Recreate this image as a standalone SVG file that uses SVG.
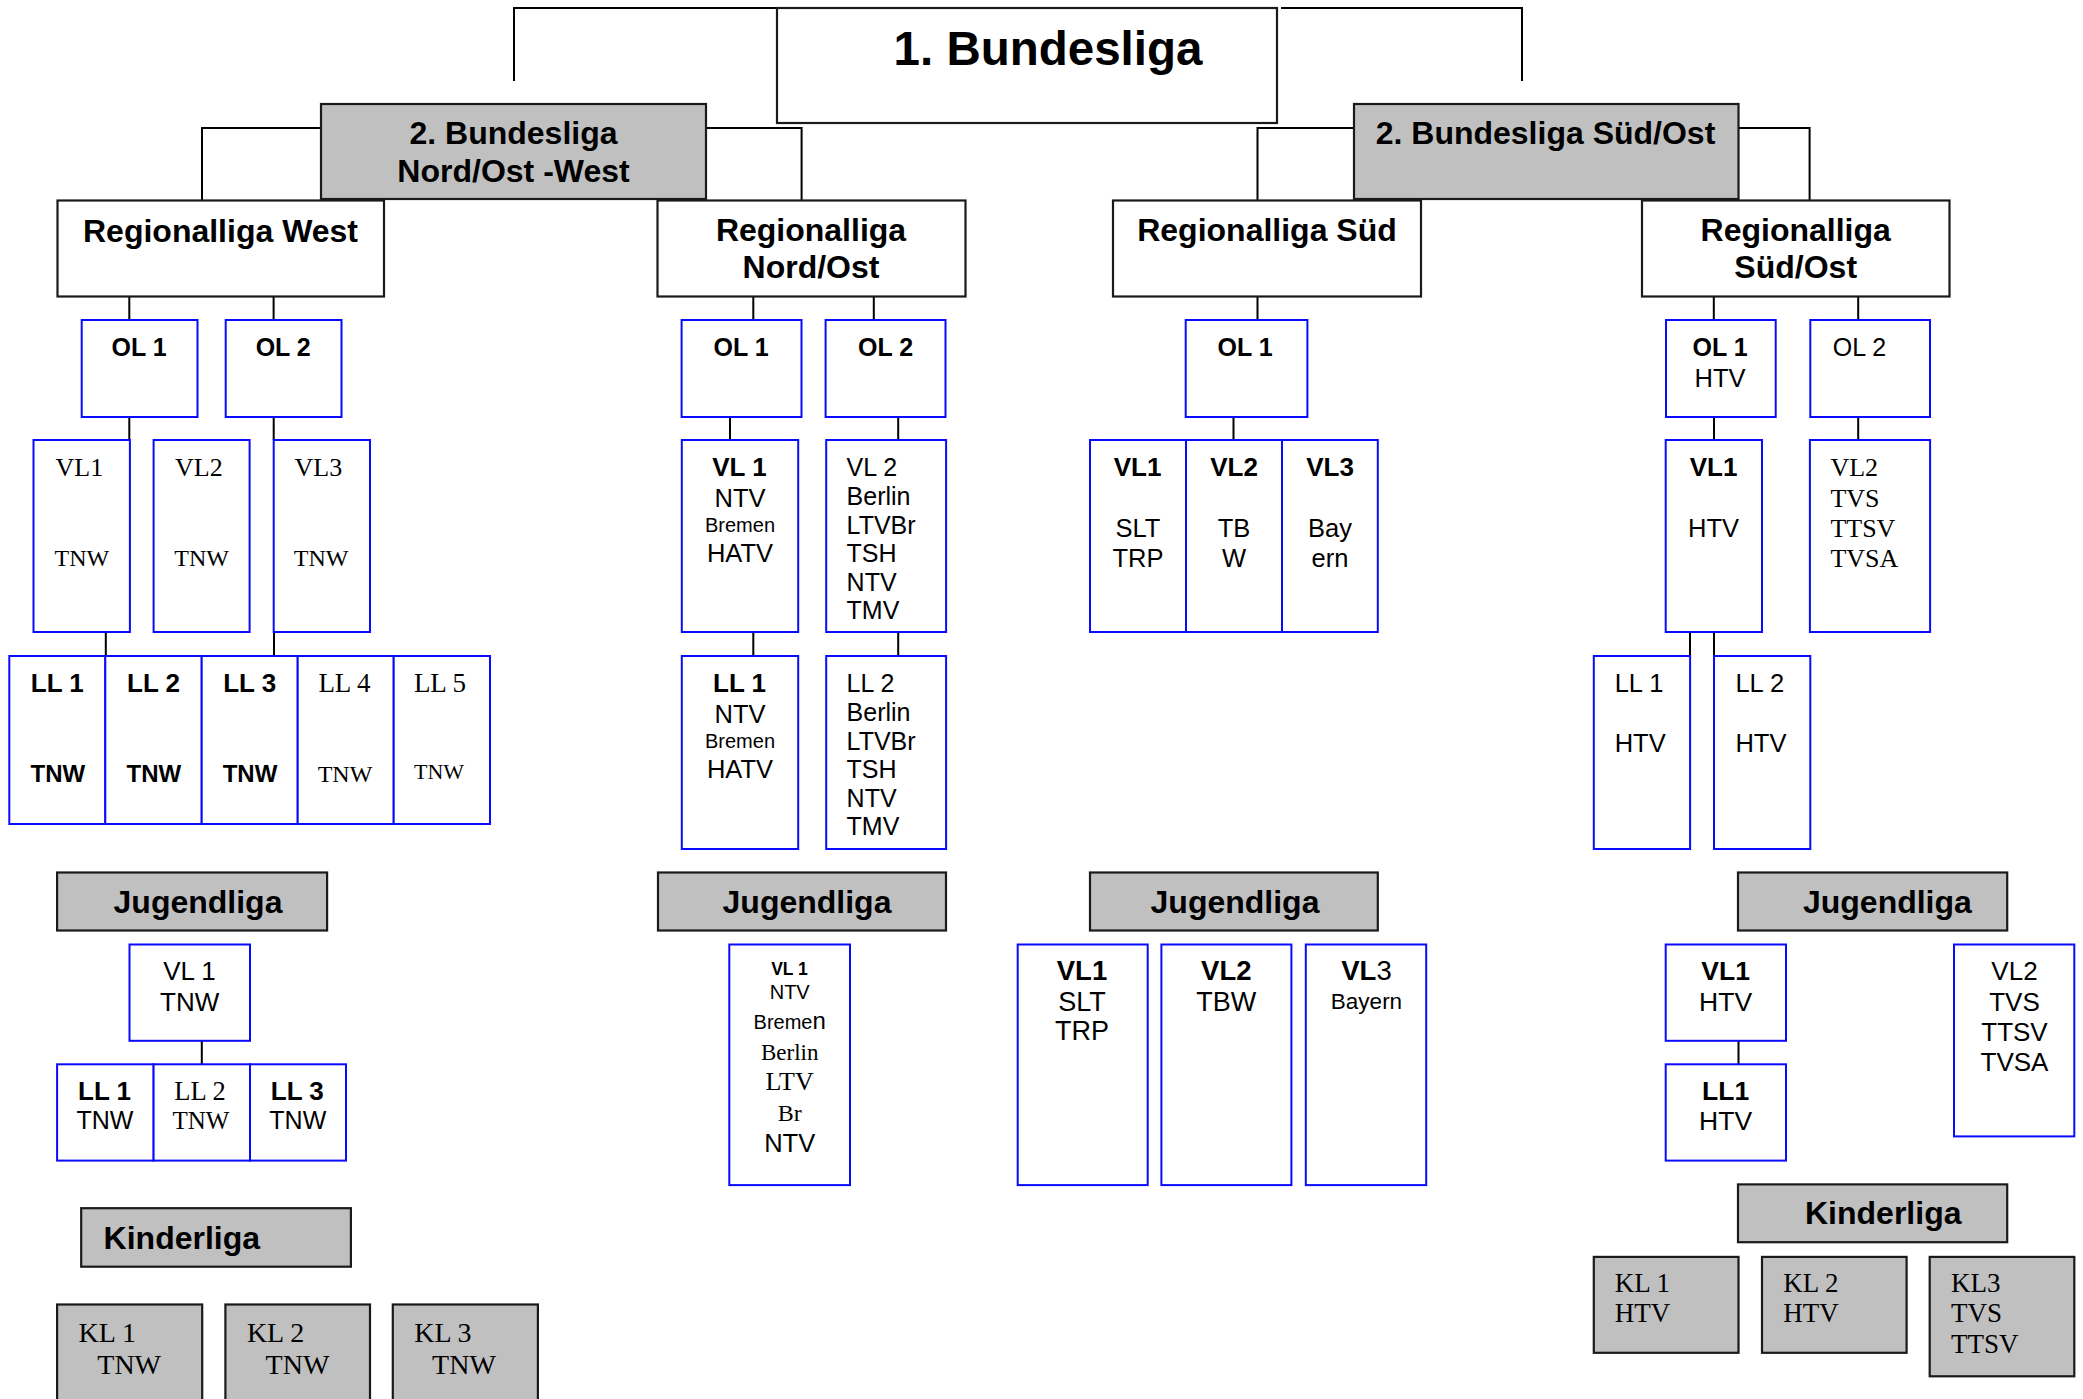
<svg xmlns="http://www.w3.org/2000/svg" width="2083" height="1399" viewBox="0 0 2083 1399">
<style>
.bk{fill:#fff;stroke:#1a1a1a;stroke-width:2.2}
.gr{fill:#c0c0c0;stroke:#1a1a1a;stroke-width:2.2}
.bl{fill:#fff;stroke:#0a0aff;stroke-width:2}
.con path{fill:none;stroke:#000;stroke-width:2}
text{fill:#000;font-family:"Liberation Sans",Arial,sans-serif}
.b{font-weight:bold}
.t{font-family:"Liberation Serif","Times New Roman",serif}
.m{text-anchor:middle}
.h{font-size:32px;font-weight:bold}
</style>
<rect width="2083" height="1399" fill="#fff"/>

<g id="connectors" class="con">
<path d="M514,81 V8 H777"/>
<path d="M1281,8 H1522 V81"/>
<path d="M321,128 H202 V200"/>
<path d="M706,128 H801.6 V200"/>
<path d="M1354,128 H1257.5 V200"/>
<path d="M1738.5,128 H1809.6 V200"/>
<path d="M129.3,296 V320"/>
<path d="M273.6,296 V320"/>
<path d="M129.3,417 V440"/>
<path d="M273.7,417 V440"/>
<path d="M105.8,632 V656"/>
<path d="M274,632 V656"/>
<path d="M753.3,296 V320"/>
<path d="M873.8,296 V320"/>
<path d="M730,417 V440"/>
<path d="M898.2,417 V440"/>
<path d="M753.3,632 V656"/>
<path d="M898.2,632 V656"/>
<path d="M1257.5,296 V320"/>
<path d="M1233.5,417 V440"/>
<path d="M1713.8,296 V320"/>
<path d="M1858.2,296 V320"/>
<path d="M1714,417 V440"/>
<path d="M1858.2,417 V440"/>
<path d="M1690,632 V656"/>
<path d="M1714,632 V656"/>
<path d="M201.8,1040.8 V1064.3"/>
<path d="M1738.5,1040.8 V1064.3"/>
</g>

<g id="bundesliga1"><rect class="bk" x="777" y="8" width="500" height="115"/><text class="b m" x="1048" y="65" font-size="47.5">1. Bundesliga</text></g>

<g id="bl2-nordost-west"><rect class="gr" x="321" y="104" width="385" height="95"/><text class="h m" x="513.5" y="144">2. Bundesliga</text><text class="h m" x="513.5" y="182">Nord/Ost -West</text></g>
<g id="bl2-suedost"><rect class="gr" x="1354" y="104" width="384.5" height="95"/><text class="h m" x="1545.5" y="144">2. Bundesliga Süd/Ost</text></g>

<g id="rl-west"><rect class="bk" x="57.5" y="200.5" width="326.5" height="96"/><text class="h m" x="220.5" y="242">Regionalliga West</text></g>
<g id="rl-nordost"><rect class="bk" x="657.5" y="200.5" width="308" height="96"/><text class="h m" x="811" y="241">Regionalliga</text><text class="h m" x="811" y="278">Nord/Ost</text></g>
<g id="rl-sued"><rect class="bk" x="1113" y="200.5" width="308" height="96"/><text class="h m" x="1267" y="241">Regionalliga Süd</text></g>
<g id="rl-suedost"><rect class="bk" x="1642" y="200.5" width="307.5" height="96"/><text class="h m" x="1795.7" y="241">Regionalliga</text><text class="h m" x="1795.7" y="278">Süd/Ost</text></g>

<!-- West -->
<g id="w-ol1"><rect class="bl" x="81.7" y="320" width="115.8" height="97"/><text class="b m" x="139" y="356" font-size="25">OL 1</text></g>
<g id="w-ol2"><rect class="bl" x="225.7" y="320" width="115.8" height="97"/><text class="b m" x="283.2" y="356" font-size="25">OL 2</text></g>
<g id="w-vl1"><rect class="bl" x="33.5" y="440" width="96.4" height="192"/><text class="t" x="55.6" y="476" font-size="26">VL1</text><text class="t" x="54.5" y="565.7" font-size="24">TNW</text></g>
<g id="w-vl2"><rect class="bl" x="153.6" y="440" width="96" height="192"/><text class="t" x="175" y="476" font-size="26">VL2</text><text class="t" x="174.3" y="565.7" font-size="24">TNW</text></g>
<g id="w-vl3"><rect class="bl" x="273.7" y="440" width="96.3" height="192"/><text class="t" x="294.6" y="476" font-size="26">VL3</text><text class="t" x="293.8" y="565.7" font-size="24">TNW</text></g>
<g id="w-ll1"><rect class="bl" x="9.3" y="656" width="96" height="168"/><text class="b m" x="57.3" y="692" font-size="26">LL 1</text><text class="b m" x="57.8" y="782" font-size="24">TNW</text></g>
<g id="w-ll2"><rect class="bl" x="105.3" y="656" width="96.4" height="168"/><text class="b m" x="153.5" y="692" font-size="26">LL 2</text><text class="b m" x="153.8" y="782" font-size="24">TNW</text></g>
<g id="w-ll3"><rect class="bl" x="201.7" y="656" width="96" height="168"/><text class="b m" x="249.7" y="692" font-size="26">LL 3</text><text class="b m" x="250" y="782" font-size="24">TNW</text></g>
<g id="w-ll4"><rect class="bl" x="297.7" y="656" width="96" height="168"/><text class="t m" x="344.5" y="692" font-size="27">LL 4</text><text class="t m" x="345" y="782" font-size="24">TNW</text></g>
<g id="w-ll5"><rect class="bl" x="393.7" y="656" width="96.3" height="168"/><text class="t m" x="440" y="692" font-size="27">LL 5</text><text class="t m" x="439" y="779" font-size="22">TNW</text></g>

<!-- Nord/Ost -->
<g id="no-ol1"><rect class="bl" x="681.6" y="320" width="119.9" height="97"/><text class="b m" x="741" y="356" font-size="25">OL 1</text></g>
<g id="no-ol2"><rect class="bl" x="825.6" y="320" width="119.9" height="97"/><text class="b m" x="885.5" y="356" font-size="25">OL 2</text></g>
<g id="no-vl1"><rect class="bl" x="681.8" y="440" width="116.4" height="192"/><text class="b m" x="739.5" y="476" font-size="26">VL 1</text><text class="m" x="740" y="506.7" font-size="25.5">NTV</text><text class="m" x="740" y="531.7" font-size="20">Bremen</text><text class="m" x="740" y="561.7" font-size="25.5">HATV</text></g>
<g id="no-vl2"><rect class="bl" x="826.2" y="440" width="119.9" height="192"/><text x="846.6" y="476" font-size="25"><tspan>VL 2</tspan><tspan x="846.6" y="505">Berlin</tspan><tspan x="846.6" y="533.5">LTVBr</tspan><tspan x="846.6" y="562">TSH</tspan><tspan x="846.6" y="590.5">NTV</tspan><tspan x="846.6" y="619">TMV</tspan></text></g>
<g id="no-ll1"><rect class="bl" x="681.8" y="656" width="116.4" height="193"/><text class="b m" x="739.5" y="692" font-size="26">LL 1</text><text class="m" x="740" y="722.7" font-size="25.5">NTV</text><text class="m" x="740" y="747.7" font-size="20">Bremen</text><text class="m" x="740" y="777.7" font-size="25.5">HATV</text></g>
<g id="no-ll2"><rect class="bl" x="826.2" y="656" width="119.9" height="193"/><text x="846.6" y="692" font-size="25"><tspan>LL 2</tspan><tspan x="846.6" y="721">Berlin</tspan><tspan x="846.6" y="749.5">LTVBr</tspan><tspan x="846.6" y="778">TSH</tspan><tspan x="846.6" y="806.5">NTV</tspan><tspan x="846.6" y="835">TMV</tspan></text></g>

<!-- Süd -->
<g id="s-ol1"><rect class="bl" x="1185.7" y="320" width="121.7" height="97"/><text class="b m" x="1245" y="356" font-size="25">OL 1</text></g>
<g id="s-vl1"><rect class="bl" x="1090" y="440" width="96" height="192"/><text class="b m" x="1137.5" y="476" font-size="26">VL1</text><text class="m" x="1138" y="536.7" font-size="25.5">SLT</text><text class="m" x="1138" y="566.7" font-size="25.5">TRP</text></g>
<g id="s-vl2"><rect class="bl" x="1186" y="440" width="96" height="192"/><text class="b m" x="1234" y="476" font-size="26">VL2</text><text class="m" x="1234" y="536.7" font-size="25.5">TB</text><text class="m" x="1234" y="566.7" font-size="25.5">W</text></g>
<g id="s-vl3"><rect class="bl" x="1282" y="440" width="95.8" height="192"/><text class="b m" x="1330" y="476" font-size="26">VL3</text><text class="m" x="1330" y="536.7" font-size="25.5">Bay</text><text class="m" x="1330" y="566.7" font-size="25.5">ern</text></g>

<!-- Süd/Ost -->
<g id="so-ol1"><rect class="bl" x="1666" y="320" width="109.7" height="97"/><text class="b m" x="1720" y="356" font-size="25">OL 1</text><text class="m" x="1720" y="386.7" font-size="25.5">HTV</text></g>
<g id="so-ol2"><rect class="bl" x="1810.3" y="320" width="119.7" height="97"/><text class="m" x="1859.5" y="356" font-size="25">OL 2</text></g>
<g id="so-vl1"><rect class="bl" x="1665.7" y="440" width="96.3" height="192"/><text class="b m" x="1713.5" y="476" font-size="26">VL1</text><text class="m" x="1713.6" y="536.7" font-size="25.5">HTV</text></g>
<g id="so-vl2"><rect class="bl" x="1809.9" y="440" width="120.2" height="192"/><text class="t" x="1830.4" y="476" font-size="26"><tspan>VL2</tspan><tspan x="1830.4" y="506.7">TVS</tspan><tspan x="1830.4" y="536.7">TTSV</tspan><tspan x="1830.4" y="566.7">TVSA</tspan></text></g>
<g id="so-ll1"><rect class="bl" x="1593.8" y="656" width="96.3" height="193"/><text x="1614.7" y="691.7" font-size="25.5">LL 1</text><text x="1614.7" y="752.3" font-size="25.5">HTV</text></g>
<g id="so-ll2"><rect class="bl" x="1714" y="656" width="96.3" height="193"/><text x="1735.4" y="691.7" font-size="25.5">LL 2</text><text x="1735.4" y="752.3" font-size="25.5">HTV</text></g>

<!-- Jugendliga -->
<g id="jl-west"><rect class="gr" x="57.1" y="872.5" width="270" height="58"/><text class="h m" x="198" y="913">Jugendliga</text></g>
<g id="jl-nordost"><rect class="gr" x="658" y="872.5" width="288" height="58"/><text class="h m" x="807" y="913">Jugendliga</text></g>
<g id="jl-sued"><rect class="gr" x="1090" y="872.5" width="287.8" height="58"/><text class="h m" x="1235" y="913">Jugendliga</text></g>
<g id="jl-suedost"><rect class="gr" x="1738" y="872.5" width="269.2" height="58"/><text class="h m" x="1887.4" y="913">Jugendliga</text></g>

<g id="jw-vl1"><rect class="bl" x="129.5" y="944.5" width="120.5" height="96.3"/><text class="m" x="189.5" y="979.6" font-size="26">VL 1</text><text class="m" x="189.7" y="1011" font-size="26">TNW</text></g>
<g id="jw-ll1"><rect class="bl" x="57.1" y="1064.3" width="96.5" height="96.3"/><text class="b m" x="104.5" y="1100.3" font-size="26">LL 1</text><text class="m" x="105" y="1129" font-size="25">TNW</text></g>
<g id="jw-ll2"><rect class="bl" x="153.6" y="1064.3" width="96.4" height="96.3"/><text class="t m" x="200" y="1100.3" font-size="26.5">LL 2</text><text class="t m" x="201" y="1129" font-size="25">TNW</text></g>
<g id="jw-ll3"><rect class="bl" x="250" y="1064.3" width="96" height="96.3"/><text class="b m" x="297.3" y="1100.3" font-size="26">LL 3</text><text class="m" x="297.8" y="1129" font-size="25">TNW</text></g>

<g id="jno-vl1"><rect class="bl" x="729.3" y="944.5" width="120.7" height="240.6"/><text class="b m" x="789.5" y="975" font-size="17.5">VL 1</text><text class="m" x="789.7" y="999.3" font-size="20">NTV</text><text class="m" x="789.7" y="1029.3" font-size="20">Breme<tspan font-size="24">n</tspan></text><text class="t m" x="789.7" y="1060" font-size="23">Berlin</text><text class="t m" x="789.7" y="1090" font-size="26">LTV</text><text class="t m" x="789.7" y="1120.7" font-size="24">Br</text><text class="m" x="789.7" y="1151.7" font-size="25.5">NTV</text></g>

<g id="js-vl1"><rect class="bl" x="1017.7" y="944.5" width="130" height="240.6"/><text class="b m" x="1082" y="980" font-size="27.5">VL1</text><text class="m" x="1082" y="1011" font-size="27">SLT</text><text class="m" x="1082" y="1040" font-size="27">TRP</text></g>
<g id="js-vl2"><rect class="bl" x="1161.4" y="944.5" width="130" height="240.6"/><text class="b m" x="1226.3" y="980" font-size="27.5">VL2</text><text class="m" x="1226.3" y="1011" font-size="27">TBW</text></g>
<g id="js-vl3"><rect class="bl" x="1305.8" y="944.5" width="120.4" height="240.6"/><text class="m" x="1366.5" y="980" font-size="27.5"><tspan class="b">VL</tspan>3</text><text class="m" x="1366.5" y="1009.3" font-size="22.5">Bayern</text></g>

<g id="jso-vl1"><rect class="bl" x="1665.7" y="944.5" width="120.3" height="96.3"/><text class="b m" x="1725.6" y="980.3" font-size="26.5">VL1</text><text class="m" x="1725.6" y="1011" font-size="26.5">HTV</text></g>
<g id="jso-ll1"><rect class="bl" x="1665.7" y="1064.3" width="120.3" height="96.3"/><text class="b m" x="1725.6" y="1100.3" font-size="26.5">LL1</text><text class="m" x="1725.6" y="1130" font-size="26.5">HTV</text></g>
<g id="jso-vl2"><rect class="bl" x="1954" y="944.5" width="120.3" height="191.9"/><text class="m" x="2014.5" y="980.3" font-size="26"><tspan>VL2</tspan><tspan x="2014.5" y="1011">TVS</tspan><tspan x="2014.5" y="1040.8">TTSV</tspan><tspan x="2014.5" y="1071.3">TVSA</tspan></text></g>

<!-- Kinderliga -->
<g id="kl-west"><rect class="gr" x="81.2" y="1208.2" width="269.7" height="58.5"/><text class="h" x="103.6" y="1249.2">Kinderliga</text></g>
<g id="kl-suedost"><rect class="gr" x="1738" y="1184.4" width="269.2" height="57.8"/><text class="h" x="1805" y="1224">Kinderliga</text></g>

<g id="kw-kl1"><rect class="gr" x="57.1" y="1304.5" width="145.1" height="110"/><text class="t" x="78.6" y="1342" font-size="28">KL 1</text><text class="t" x="97.3" y="1374.2" font-size="28">TNW</text></g>
<g id="kw-kl2"><rect class="gr" x="225.4" y="1304.5" width="144.6" height="110"/><text class="t" x="246.9" y="1342" font-size="28">KL 2</text><text class="t" x="265.6" y="1374.2" font-size="28">TNW</text></g>
<g id="kw-kl3"><rect class="gr" x="392.8" y="1304.5" width="145.1" height="110"/><text class="t" x="414.3" y="1342" font-size="28">KL 3</text><text class="t" x="432.1" y="1374.2" font-size="28">TNW</text></g>

<g id="kso-kl1"><rect class="gr" x="1593.8" y="1256.9" width="144.7" height="95.9"/><text class="t" x="1614.7" y="1291.9" font-size="27">KL 1</text><text class="t" x="1614.7" y="1322" font-size="27">HTV</text></g>
<g id="kso-kl2"><rect class="gr" x="1762" y="1256.9" width="144.6" height="95.9"/><text class="t" x="1783.3" y="1291.9" font-size="27">KL 2</text><text class="t" x="1783.3" y="1322" font-size="27">HTV</text></g>
<g id="kso-kl3"><rect class="gr" x="1929.7" y="1256.9" width="144.6" height="119.4"/><text class="t" x="1951" y="1291.9" font-size="27">KL3</text><text class="t" x="1951" y="1322" font-size="27">TVS</text><text class="t" x="1951" y="1352.5" font-size="27">TTSV</text></g>
</svg>
